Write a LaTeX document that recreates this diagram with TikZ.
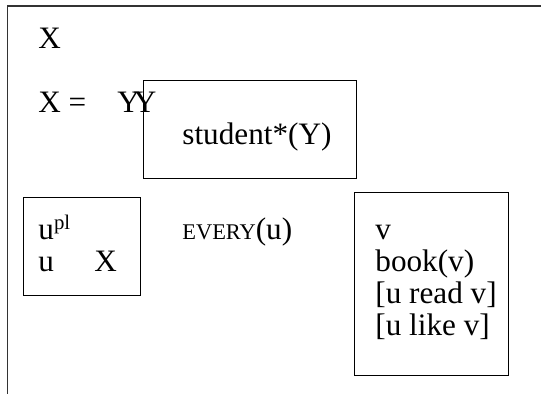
\documentclass[tikz,border=0pt]{standalone}
\usepackage{fontspec}
\setmainfont{Liberation Serif}

\begin{document}
\begin{tikzpicture}[x=0.5pt,y=-0.5pt,
  every node/.style={inner sep=0pt,anchor=base west,font=\fontsize{15.6}{16}\selectfont},
  drs/.style={line width=0.5pt}]
  \useasboundingbox (0,0) rectangle (541,394);
  % main box, only its top and left edges
  \draw[line width=0.7pt,black!80] (7.5,394) -- (7.5,6) -- (541,6);
  \node (x) at (38,49) {X};
  \node (xeq) at (38,113) {X =\hspace{15.5pt}Y\kern-3pt Y};

  \draw[drs] (143,81) rectangle (356,179);
  \node (stud) at (182,145) {student*(Y)};

  % restrictor
  \draw[drs] (23,198) rectangle (140,296);
  \node (upl) at (38,240) {u\raisebox{5pt}{\fontsize{10.4}{10}\selectfont pl}};
  \node (u) at (38,272) {u};
  \node (ux) at (94,272) {X};

  \node (every) at (182,240) {{\fontsize{11.2}{12}\selectfont EVERY}(u)};

  % nuclear scope
  \draw[drs] (354,193) rectangle (508,376);
  \node (v) at (375,240) {v};
  \node (book) at (375,272) {book(v)};
  \node (read) at (375,304) {[u read v]};
  \node (like) at (375,336) {[u like v]};
\end{tikzpicture}
\end{document}
